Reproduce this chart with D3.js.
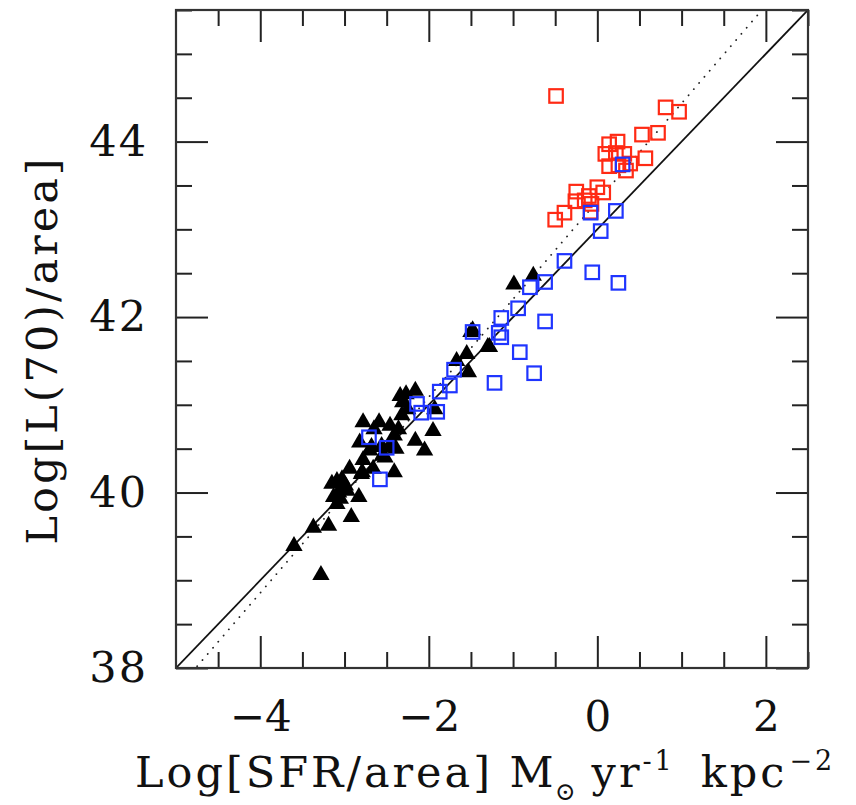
<!DOCTYPE html>
<html>
<head>
<meta charset="utf-8">
<script src="https://cdn.jsdelivr.net/npm/d3@7"></script>
<style>
  body { margin: 0; background: #fff; }
  svg text { font-family: "DejaVu Serif", serif; fill: #111; }
</style>
</head>
<body>
<div id="chart"></div>
<script>
// black triangles
const triX = [-3.60, -3.37, -3.19, -3.28, -2.92, -2.83, -3.15, -3.09, -3.03, -2.99, -3.07, -3.13, -3.05, -2.97, -3.09,
  -2.94, -2.79, -2.78, -2.70, -2.66, -2.80, -2.56, -2.47, -2.52, -2.41, -2.39, -2.41, -2.82, -2.78, -2.59,
  -2.46, -2.36, -2.32, -2.34, -2.27, -2.16, -2.31, -2.16, -2.05, -1.95, -1.93, -2.68, -2.55, -1.67, -1.55,
  -1.53, -1.30, -1.50, -0.99, -0.76, -2.65, -2.25, -1.48, -1.28];
const triY = [39.39, 39.60, 39.62, 39.06, 39.72, 39.95, 40.10, 40.13, 40.15, 40.08, 40.00, 39.95, 39.93, 40.02, 39.87,
  40.27, 40.23, 40.37, 40.48, 40.27, 40.21, 40.53, 40.52, 40.40, 40.23, 40.50, 40.65, 40.57, 40.80, 40.80,
  40.76, 40.72, 40.88, 41.10, 41.12, 41.16, 41.03, 40.59, 40.48, 40.70, 40.95, 40.52, 40.42, 41.50, 41.58,
  41.37, 41.66, 41.83, 42.37, 42.47, 40.72, 40.95, 41.85, 41.66];

// blue squares
const blueX = [-1.48, -1.17, -1.14, -1.14, -0.94, -0.92, -0.75, -1.22, -0.62, -0.62, -0.80, -0.39, -0.06, 0.25,
  0.04, -0.08, 0.22, 0.30, -1.70, -1.75, -1.87, -2.14, -2.09, -1.90, -2.71, -2.50, -2.58];
const blueY = [41.83, 41.82, 41.77, 41.99, 42.10, 41.60, 41.36, 41.25, 41.95, 42.40, 42.34, 42.64, 42.51, 42.39,
  42.98, 43.19, 43.21, 43.74, 41.40, 41.22, 41.15, 41.01, 40.91, 40.92, 40.63, 40.51, 40.15];

// red squares
const redX = [-0.49, 0.81, 0.97, 0.53, 0.72, 0.14, 0.24, 0.095, 0.22, 0.32, 0.57, 0.14, 0.25, 0.39, 0.34,
  -0.25, 0.00, 0.07, -0.10, -0.26, -0.15, -0.07, -0.39, -0.50, -0.08];
const redY = [44.52, 44.39, 44.34, 44.08, 44.10, 43.97, 44.00, 43.86, 43.87, 43.86, 43.81, 43.72, 43.73, 43.75, 43.67,
  43.43, 43.48, 43.42, 43.38, 43.32, 43.33, 43.29, 43.19, 43.11, 43.20];

// lines: slope, intercept
const solidFit = [1.0, 43.0];
const dottedFit = [1.116, 43.32];

const xMajor = [-4, -2, 0, 2];
const yMajor = [38, 40, 42, 44];

const margin = { t: 10, r: 48, b: 137, l: 176 };
const width = 856, height = 805;
const W = width - margin.l - margin.r;
const H = height - margin.t - margin.b;

const x = d3.scaleLinear().domain([-5, 2.5]).range([0, W]);
const y = d3.scaleLinear().domain([38, 45.5]).range([H, 0]);

const svg = d3.select('#chart').append('svg')
  .attr('width', width)
  .attr('height', height);

const g = svg.append('g')
  .attr('transform', `translate(${margin.l},${margin.t})`);

g.append('defs').append('clipPath')
  .attr('id', 'clip')
  .append('rect')
  .attr('width', W)
  .attr('height', H);

// fit lines
const fitLine = (fit) => {
  const xs = [-5, 2.5];
  return d3.line()
    .x(d => x(d))
    .y(d => y(fit[0] * d + fit[1]))(xs);
};

g.append('path')
  .attr('clip-path', 'url(#clip)')
  .attr('d', fitLine(solidFit))
  .attr('fill', 'none')
  .attr('stroke', '#111')
  .attr('stroke-width', 1.8);

g.append('path')
  .attr('clip-path', 'url(#clip)')
  .attr('d', fitLine(dottedFit))
  .attr('fill', 'none')
  .attr('stroke', '#222')
  .attr('stroke-width', 1.8)
  .attr('stroke-linecap', 'round')
  .attr('stroke-dasharray', '0.1,8');

// triangles
const tri = d3.symbol().type(d3.symbolTriangle).size(130);
g.append('g').selectAll('path')
  .data(d3.zip(triX, triY))
  .join('path')
  .attr('transform', d => `translate(${x(d[0])},${y(d[1])})`)
  .attr('d', tri)
  .attr('fill', '#000');

const sq = 13.5;
const squares = (xs, ys, color) => {
  g.append('g').selectAll('rect')
    .data(d3.zip(xs, ys))
    .join('rect')
    .attr('x', d => x(d[0]) - sq / 2)
    .attr('y', d => y(d[1]) - sq / 2)
    .attr('width', sq)
    .attr('height', sq)
    .attr('fill', 'none')
    .attr('stroke', color)
    .attr('stroke-width', 2.2);
};
squares(redX, redY, '#ff2a14');
squares(blueX, blueY, '#1f35ff');

// ticks on all four sides, pointing inward
const minorX = d3.range(-4.5, 2.51, 0.5).filter(v => !xMajor.includes(v));
const minorY = d3.range(38.5, 45.51, 0.5).filter(v => !yMajor.includes(v));

const tickStyle = sel => {
  sel.select('.domain').remove();
  sel.selectAll('line').attr('stroke', '#222').attr('stroke-width', 2);
};

g.append('g').attr('transform', `translate(0,${H})`)
  .call(d3.axisBottom(x).tickValues(minorX).tickSize(-16).tickFormat(''))
  .call(tickStyle);
g.append('g')
  .call(d3.axisTop(x).tickValues(minorX).tickSize(-16).tickFormat(''))
  .call(tickStyle);
g.append('g')
  .call(d3.axisTop(x).tickValues(xMajor).tickSize(-32).tickFormat(''))
  .call(tickStyle);
g.append('g').attr('transform', `translate(0,${H})`)
  .call(d3.axisBottom(x).tickValues(xMajor).tickSize(-32).tickPadding(33))
  .call(tickStyle)
  .selectAll('text')
  .attr('font-size', 42);

g.append('g')
  .call(d3.axisLeft(y).tickValues(minorY).tickSize(-16).tickFormat(''))
  .call(tickStyle);
g.append('g').attr('transform', `translate(${W},0)`)
  .call(d3.axisRight(y).tickValues(minorY).tickSize(-16).tickFormat(''))
  .call(tickStyle);
g.append('g').attr('transform', `translate(${W},0)`)
  .call(d3.axisRight(y).tickValues(yMajor).tickSize(-32).tickFormat(''))
  .call(tickStyle);
g.append('g')
  .call(d3.axisLeft(y).tickValues(yMajor).tickSize(-32).tickPadding(28))
  .call(tickStyle)
  .selectAll('text')
  .attr('font-size', 43)
  .attr('letter-spacing', 2);

// frame
g.append('rect')
  .attr('width', W)
  .attr('height', H)
  .attr('fill', 'none')
  .attr('stroke', '#333')
  .attr('stroke-width', 2.2);

// axis titles
const xt = svg.append('text')
  .attr('x', 135)
  .attr('y', 787)
  .attr('font-size', 43)
  .attr('letter-spacing', 3);
xt.append('tspan').text('Log[SFR/area] M');
xt.append('tspan').attr('font-size', 25).attr('dy', 13).attr('dx', -2).text('\u2299');
xt.append('tspan').attr('dy', -13).attr('dx', 13).text('yr');
xt.append('tspan').attr('font-size', 27).attr('dy', -17).text('-1');
xt.append('tspan').attr('dy', 17).attr('dx', 26).text('kpc');
xt.append('tspan').attr('font-size', 27).attr('dy', -17).attr('dx', 2).text('\u22122');

svg.append('text')
  .attr('transform', `translate(57,350) rotate(-90)`)
  .attr('text-anchor', 'middle')
  .attr('font-size', 43)
  .attr('letter-spacing', 3)
  .text('Log[L(70)/area]');
</script>
</body>
</html>
